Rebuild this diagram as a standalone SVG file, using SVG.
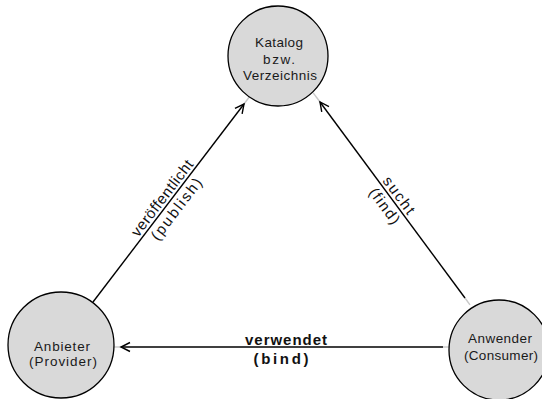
<svg xmlns="http://www.w3.org/2000/svg" width="542" height="399" viewBox="0 0 542 399">
  <defs>
    <marker id="arr" markerUnits="userSpaceOnUse" markerWidth="14" markerHeight="14" viewBox="-11 -7 14 14" refX="0" refY="0" orient="auto">
      <path d="M-9,-4.5 L0,0 L-9,4.5" fill="none" stroke="#000" stroke-width="1.4"/>
    </marker>
    <style>
      .node circle { fill: #d9d9d9; stroke: #000; stroke-width: 1.3; }
      .node text { font-family: "Liberation Sans", Arial, sans-serif; font-size: 13.5px; fill: #1a1a1a; text-anchor: middle; }
      .edge { stroke: #000; stroke-width: 1.4; fill: none; }
      .stub { stroke: #c8c8c8; stroke-width: 1.4; fill: none; }
      .lbl { font-family: "Liberation Sans", Arial, sans-serif; font-size: 15px; fill: #111; text-anchor: middle; }
      .bold { font-weight: bold; }
    </style>
  </defs>
  <rect width="542" height="399" fill="#fff"/>

  <g id="connectors">
    <!-- Anbieter -> Katalog -->
    <line class="stub" x1="89.4" y1="306.8" x2="93" y2="302"/>
    <line class="stub" x1="244" y1="104" x2="249.3" y2="97"/>
    <line class="edge" x1="93" y1="302" x2="244" y2="104" marker-end="url(#arr)"/>
    <!-- Anwender -> Katalog -->
    <line class="stub" x1="470" y1="304.8" x2="465" y2="298"/>
    <line class="stub" x1="320" y1="102" x2="313.2" y2="92.8"/>
    <line class="edge" x1="465" y1="298" x2="320" y2="102" marker-end="url(#arr)"/>
    <!-- Anwender -> Anbieter -->
    <line class="stub" x1="449" y1="347" x2="443" y2="347"/>
    <line class="stub" x1="121" y1="347" x2="114" y2="347"/>
    <line class="edge" x1="443" y1="347" x2="121" y2="347" marker-end="url(#arr)"/>

    <g transform="translate(168.5,203) rotate(-52.7)">
      <text class="lbl" x="0" y="-3" textLength="92" lengthAdjust="spacing">veröffentlicht</text>
      <text class="lbl" x="0" y="15" textLength="74" lengthAdjust="spacing">(publish)</text>
    </g>
    <g transform="translate(392.5,200) rotate(53.5)">
      <text class="lbl" x="0" y="-3" textLength="43" lengthAdjust="spacing">sucht</text>
      <text class="lbl" x="0" y="15" textLength="41" lengthAdjust="spacing">(find)</text>
    </g>
    <text class="lbl bold" x="286" y="345" textLength="82" lengthAdjust="spacing">verwendet</text>
    <text class="lbl bold" x="281" y="364" textLength="55" lengthAdjust="spacing">(bind)</text>
  </g>

  <g id="katalog" class="node">
    <circle cx="278" cy="56" r="50"/>
    <text x="279" y="47" textLength="48" lengthAdjust="spacing">Katalog</text>
    <text x="279" y="63.5" textLength="32" lengthAdjust="spacing">bzw.</text>
    <text x="280" y="80" textLength="74" lengthAdjust="spacing">Verzeichnis</text>
  </g>

  <g id="anbieter" class="node">
    <circle cx="61" cy="345" r="53"/>
    <text x="62" y="351" textLength="56" lengthAdjust="spacing">Anbieter</text>
    <text x="63" y="366" textLength="68" lengthAdjust="spacing">(Provider)</text>
  </g>

  <g id="anwender" class="node">
    <circle cx="499" cy="350" r="50"/>
    <text x="500" y="343" textLength="64" lengthAdjust="spacing">Anwender</text>
    <text x="501" y="360" textLength="74" lengthAdjust="spacing">(Consumer)</text>
  </g>
</svg>
